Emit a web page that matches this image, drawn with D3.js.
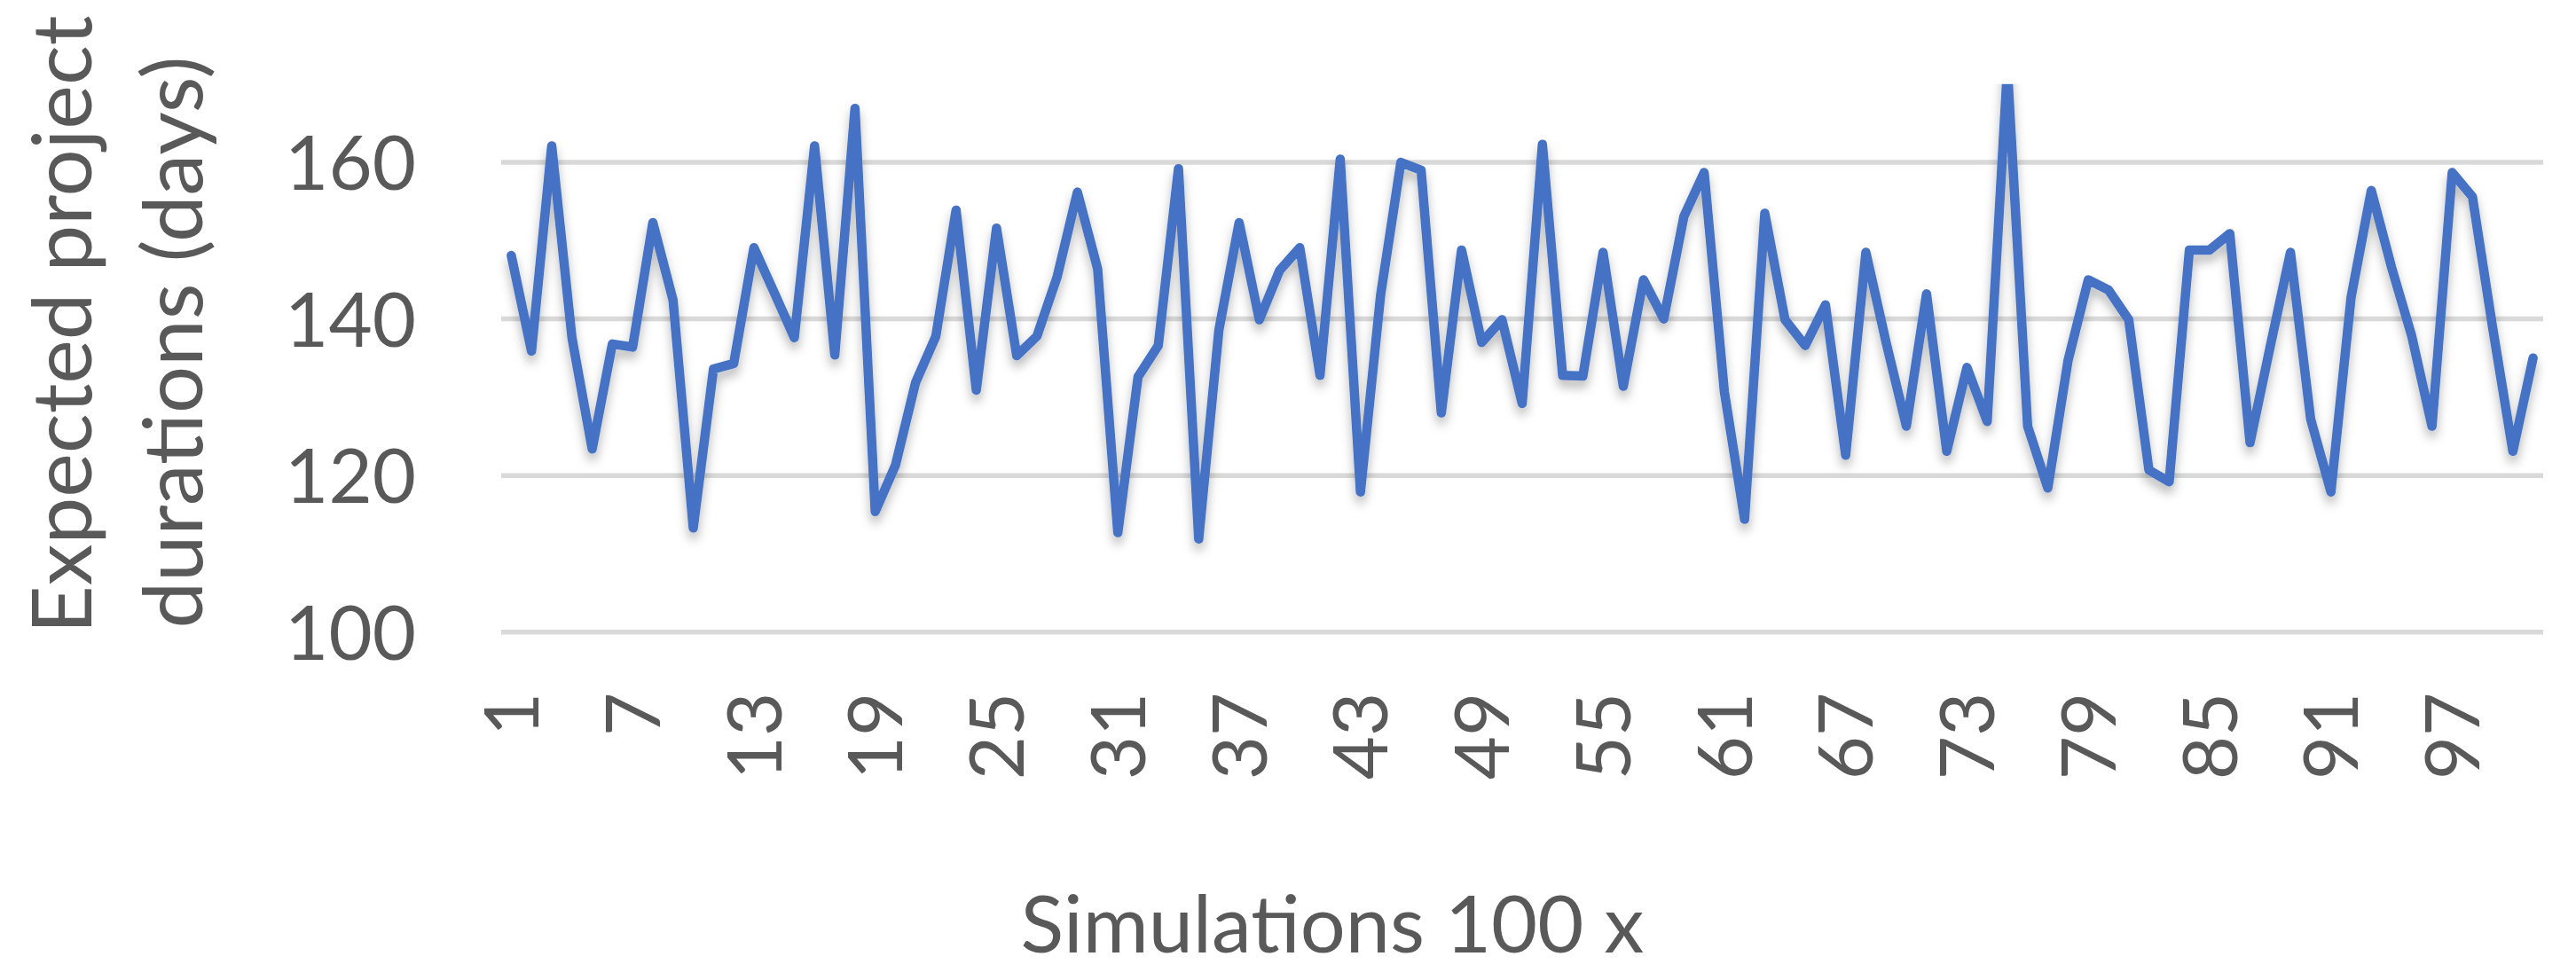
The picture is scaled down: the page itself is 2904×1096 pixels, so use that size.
<!DOCTYPE html>
<html>
<head>
<meta charset="utf-8">
<script src="https://cdn.jsdelivr.net/npm/d3@7"></script>
<style>
    body { margin: 0; background: #fff; }
    text { font-family: Lato, "Open Sans", sans-serif; fill: #595959; }
</style>
</head>
<body>
<div class="chart"></div>
<script>
// simulation runs 1..101 and the expected duration read for each
const simulations = d3.range(1, 102);
const durations = [
    148.1, 135.9, 162.1, 137.6, 123.4, 136.8, 136.4, 152.3, 142.4, 113.3,
    133.6, 134.3, 149.1, 143.4, 137.6, 162.1, 135.4, 166.9, 115.4, 121.3,
    131.9, 137.8, 153.9, 130.9, 151.6, 135.3, 137.8, 145.4, 156.2, 146.4,
    112.7, 132.6, 136.6, 159.2, 111.9, 138.6, 152.3, 139.9, 146.2, 149.1,
    132.8, 160.4, 117.9, 143.1, 160.0, 159.0, 128.0, 148.8, 137.0, 139.9,
    129.2, 162.3, 132.8, 132.7, 148.5, 131.4, 145.0, 140.0, 153.1, 158.7,
    130.7, 114.4, 153.5, 139.9, 136.6, 141.8, 122.6, 148.5, 137.0, 126.3,
    143.2, 123.1, 133.8, 126.9, 172.0, 126.3, 118.4, 134.7, 145.0, 143.7,
    139.9, 120.7, 119.2, 148.8, 148.8, 150.9, 124.2, 136.5, 148.5, 127.2,
    117.9, 142.8, 156.4, 146.6, 137.8, 126.3, 158.7, 155.6, 138.9, 123.1,
    135.0
];
const xTickLabels = [1, 7, 13, 19, 25, 31, 37, 43, 49, 55, 61, 67, 73, 79, 85, 91, 97];
const yTickLabels = [100, 120, 140, 160];

const width = 2904, height = 1096;
const plot = {left: 565, right: 2867, top: 94.8, bottom: 712.7};

const svg = d3.select(".chart").append("svg")
    .attr("width", width)
    .attr("height", height);

const defs = svg.append("defs");
defs.append("filter")
    .attr("id", "shadow")
    .attr("x", "-5%").attr("y", "-20%")
    .attr("width", "110%").attr("height", "140%")
    .append("feDropShadow")
    .attr("dx", 0).attr("dy", 8)
    .attr("stdDeviation", 6)
    .attr("flood-color", "#000")
    .attr("flood-opacity", 0.28);
defs.append("clipPath")
    .attr("id", "plotclip")
    .append("rect")
    .attr("x", plot.left - 40)
    .attr("y", plot.top)
    .attr("width", plot.right - plot.left + 80)
    .attr("height", height - plot.top);

const xScale = d3.scaleBand()
    .domain(simulations)
    .range([plot.left, plot.right]);

const yScale = d3.scaleLinear()
    .domain([100, 170])
    .range([plot.bottom, plot.top]);

// gridlines
svg.append("g")
    .selectAll("line")
    .data(yTickLabels)
    .enter()
    .append("line")
    .attr("x1", plot.left)
    .attr("x2", plot.right)
    .attr("y1", d => yScale(d))
    .attr("y2", d => yScale(d))
    .attr("stroke", "#d9d9d9")
    .attr("stroke-width", 5.5);

const yAxis = d3.axisLeft(yScale)
    .tickValues(yTickLabels)
    .tickSize(0)
    .tickPadding(96);

svg.append("g")
    .attr("class", "axis y-axis")
    .attr("transform", "translate(" + plot.left + ",0)")
    .call(yAxis)
    .call(g => g.select(".domain").remove())
    .selectAll("text")
    .attr("dy", "0.36em")
    .style("font-size", "85px")
    .style("font-family", "Lato, sans-serif")
    .attr("fill", "#595959");

const xAxis = d3.axisBottom(xScale)
    .tickValues(xTickLabels)
    .tickSize(0);

svg.append("g")
    .attr("class", "axis x-axis")
    .attr("transform", "translate(0," + plot.bottom + ")")
    .call(xAxis)
    .call(g => g.select(".domain").remove())
    .selectAll("text")
    .attr("transform", "rotate(-90)")
    .attr("x", -68)
    .attr("y", 0)
    .attr("dy", "0.36em")
    .attr("text-anchor", "end")
    .style("font-size", "85px")
    .style("font-family", "Lato, sans-serif")
    .attr("fill", "#595959");

const line = d3.line()
    .x((d, i) => xScale(simulations[i]) + xScale.bandwidth() / 2)
    .y(d => yScale(d));

svg.append("g")
    .attr("clip-path", "url(#plotclip)")
    .append("path")
    .datum(durations)
    .attr("d", line)
    .attr("fill", "none")
    .attr("stroke", "#4472c4")
    .attr("stroke-width", 10.5)
    .attr("stroke-linejoin", "round")
    .attr("stroke-linecap", "round")
    .attr("filter", "url(#shadow)");

// axis titles
svg.append("text")
    .text("Expected project")
    .attr("transform", "translate(103,366) rotate(-90)")
    .attr("text-anchor", "middle")
    .style("font-size", "94px");

svg.append("text")
    .text("durations (days)")
    .attr("transform", "translate(228,386) rotate(-90)")
    .attr("text-anchor", "middle")
    .style("font-size", "94px");

svg.append("text")
    .text("Simulations 100 x")
    .attr("x", 1502)
    .attr("y", 1074)
    .attr("text-anchor", "middle")
    .style("font-size", "90px");
</script>
</body>
</html>
